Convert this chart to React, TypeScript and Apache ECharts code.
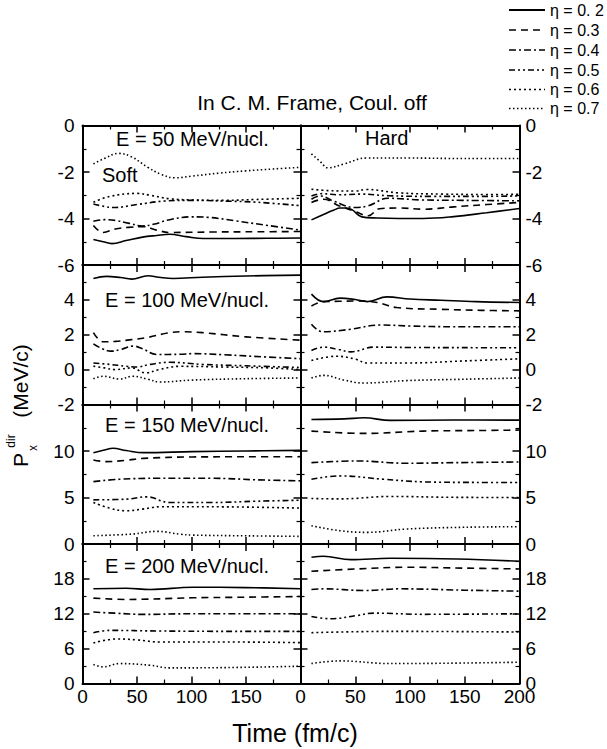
import React, { useEffect, useRef } from "react";
import * as echarts from "echarts";

type Pt = [number, number];

const FONT = "'Liberation Sans', Arial, Helvetica, sans-serif";

const ETA_LABELS = ["η = 0. 2", "η = 0.3", "η = 0.4", "η = 0.5", "η = 0.6", "η = 0.7"];
const ENERGY_LABELS = ["E = 50 MeV/nucl.", "E = 100 MeV/nucl.", "E = 150 MeV/nucl.", "E = 200 MeV/nucl."];
const TITLE = "In C. M. Frame, Coul. off";
const X_TITLE = "Time (fm/c)";

// y-axis range per row (E = 50, 100, 150, 200)
const Y_MIN = [-6, -2, 0, 0];
const Y_MAX = [0, 6, 15, 24];
const Y_STEP = [2, 2, 5, 6];
const X_MIN = 0;
const X_MAX = 200;
const X_STEP = 50;

// each panel: six curves, eta = 0.2 ... 0.7
const SOFT_50: Pt[][] = [
  [[10, -4.9], [19, -5.0], [27, -5.08], [40, -4.95], [55, -4.8], [68, -4.73], [80, -4.68], [95, -4.78], [111, -4.86], [140, -4.86], [170, -4.85], [200, -4.84]],
  [[10, -4.3], [19, -4.6], [30, -4.45], [42, -4.38], [56, -4.35], [68, -4.5], [80, -4.6], [120, -4.58], [160, -4.57], [200, -4.56]],
  [[10, -4.12], [20, -4.05], [30, -4.08], [42, -4.2], [55, -4.32], [65, -4.25], [80, -4.05], [100, -3.93], [115, -3.95], [140, -4.1], [170, -4.3], [200, -4.5]],
  [[10, -3.38], [20, -3.48], [28, -3.53], [50, -3.4], [75, -3.25], [100, -3.22], [130, -3.25], [160, -3.3], [200, -3.45]],
  [[10, -3.3], [25, -3.05], [50, -2.92], [62, -3.0], [80, -3.15], [100, -3.2], [130, -3.22], [160, -3.18], [200, -3.13]],
  [[10, -1.65], [20, -1.42], [33, -1.2], [45, -1.35], [60, -1.8], [72, -2.1], [85, -2.25], [100, -2.18], [125, -2.05], [150, -1.95], [175, -1.87], [200, -1.8]],
];

const HARD_50: Pt[][] = [
  [[10, -4.06], [20, -3.85], [30, -3.65], [36, -3.55], [42, -3.55], [47, -3.62], [56, -3.93], [70, -3.98], [90, -4.0], [112, -4.0], [140, -3.92], [170, -3.75], [200, -3.57]],
  [[10, -3.31], [21, -3.17], [35, -3.45], [50, -3.7], [62, -3.88], [72, -3.58], [90, -3.55], [112, -3.6], [140, -3.5], [170, -3.4], [200, -3.31]],
  [[10, -3.17], [18, -3.03], [30, -3.25], [50, -3.53], [62, -3.45], [80, -3.13], [110, -3.2], [150, -3.22], [200, -3.24]],
  [[10, -3.03], [20, -2.93], [35, -2.98], [55, -2.95], [80, -3.02], [120, -3.05], [160, -3.05], [200, -3.03]],
  [[10, -2.74], [25, -2.8], [50, -2.82], [60, -2.75], [90, -2.9], [130, -2.95], [170, -2.97], [200, -2.96]],
  [[10, -1.22], [18, -1.55], [25, -1.82], [40, -1.65], [60, -1.4], [100, -1.4], [150, -1.42], [200, -1.42]],
];

const SOFT_100: Pt[][] = [
  [[10, 5.22], [22, 5.35], [35, 5.28], [45, 5.19], [60, 5.38], [70, 5.3], [83, 5.23], [110, 5.3], [150, 5.37], [200, 5.42]],
  [[10, 2.12], [19, 1.6], [30, 1.62], [45, 1.72], [60, 1.85], [78, 2.1], [90, 2.17], [110, 2.12], [150, 1.88], [200, 1.69]],
  [[10, 1.48], [18, 1.2], [26, 1.06], [35, 1.15], [47, 1.35], [55, 1.2], [68, 0.87], [90, 0.88], [101, 0.92], [130, 0.85], [170, 0.72], [200, 0.63]],
  [[10, 0.38], [25, 0.3], [40, 0.19], [50, 0.15], [62, 0.3], [80, 0.42], [110, 0.3], [150, 0.22], [200, 0.12]],
  [[10, 0.2], [20, 0.1], [30, 0.0], [45, 0.1], [58, -0.19], [70, 0.0], [89, 0.19], [130, 0.15], [170, 0.1], [200, 0.0]],
  [[10, -0.52], [19, -0.38], [34, -0.54], [46, -0.38], [60, -0.55], [71, -0.71], [100, -0.6], [150, -0.52], [200, -0.48]],
];

const HARD_100: Pt[][] = [
  [[10, 4.33], [21, 3.9], [36, 4.1], [50, 4.02], [61, 3.9], [79, 4.17], [100, 4.05], [128, 3.98], [160, 3.9], [200, 3.85]],
  [[10, 3.65], [21, 3.9], [36, 3.92], [52, 3.94], [70, 3.85], [88, 3.56], [128, 3.46], [165, 3.4], [200, 3.37]],
  [[10, 2.6], [20, 2.17], [45, 2.31], [73, 2.56], [100, 2.5], [140, 2.46], [200, 2.46]],
  [[10, 1.1], [21, 1.29], [35, 1.15], [46, 1.02], [67, 1.29], [100, 1.27], [150, 1.26], [200, 1.25]],
  [[10, 0.52], [33, 0.77], [50, 0.6], [61, 0.38], [97, 0.38], [150, 0.5], [200, 0.62]],
  [[10, -0.48], [21, -0.33], [40, -0.6], [58, -0.77], [97, -0.63], [150, -0.55], [200, -0.48]],
];

const SOFT_150: Pt[][] = [
  [[10, 9.82], [20, 10.1], [28, 10.29], [40, 10.05], [56, 9.82], [101, 9.93], [150, 10.0], [200, 10.07]],
  [[10, 9.04], [22, 8.86], [40, 9.0], [56, 9.21], [101, 9.36], [150, 9.38], [200, 9.39]],
  [[10, 6.71], [34, 6.96], [71, 7.07], [117, 7.07], [160, 6.9], [200, 6.79]],
  [[10, 4.75], [40, 4.82], [59, 5.07], [80, 4.46], [117, 4.46], [160, 4.6], [200, 4.71]],
  [[10, 4.46], [25, 3.85], [40, 3.57], [55, 3.75], [71, 4.0], [117, 4.0], [200, 3.86]],
  [[10, 0.89], [46, 1.07], [68, 1.36], [90, 1.05], [101, 0.96], [150, 0.88], [200, 0.82]],
];

const HARD_150: Pt[][] = [
  [[10, 13.39], [40, 13.45], [58, 13.57], [82, 13.29], [140, 13.33], [200, 13.32]],
  [[10, 12.14], [58, 11.89], [112, 12.14], [160, 12.2], [200, 12.25]],
  [[10, 8.75], [52, 8.93], [97, 8.68], [143, 8.75], [200, 8.82]],
  [[10, 6.96], [36, 7.32], [76, 6.96], [112, 6.68], [160, 6.62], [200, 6.61]],
  [[10, 4.89], [36, 4.85], [82, 5.11], [140, 5.02], [200, 5.0]],
  [[10, 1.96], [36, 1.43], [61, 1.25], [97, 1.61], [150, 1.8], [200, 1.86]],
];

const SOFT_200: Pt[][] = [
  [[10, 16.29], [40, 16.4], [62, 16.17], [101, 16.57], [150, 16.5], [200, 16.29]],
  [[10, 14.69], [40, 14.46], [101, 14.74], [150, 14.85], [200, 14.97]],
  [[10, 12.29], [30, 12.1], [56, 11.89], [101, 12.0], [200, 12.0]],
  [[10, 8.74], [25, 9.14], [71, 9.03], [140, 8.97], [200, 8.97]],
  [[10, 6.97], [31, 7.66], [50, 7.5], [71, 7.14], [132, 7.14], [200, 7.03]],
  [[10, 3.26], [19, 2.86], [34, 3.43], [62, 3.14], [80, 2.69], [132, 2.74], [200, 2.97]],
];

const HARD_200: Pt[][] = [
  [[10, 21.71], [21, 21.89], [46, 21.31], [82, 21.54], [143, 21.43], [200, 21.03]],
  [[10, 19.31], [52, 19.71], [97, 20.0], [150, 19.85], [200, 19.71]],
  [[10, 16.17], [21, 16.29], [58, 16.0], [91, 16.29], [150, 16.05], [200, 15.89]],
  [[10, 11.54], [27, 11.14], [52, 11.71], [67, 12.11], [112, 11.9], [200, 12.0]],
  [[10, 8.74], [82, 8.97], [200, 8.86]],
  [[10, 3.43], [36, 3.89], [82, 3.43], [200, 3.66]],
];

const PANELS: Pt[][][][] = [
  [SOFT_50, HARD_50],
  [SOFT_100, HARD_100],
  [SOFT_150, HARD_150],
  [SOFT_200, HARD_200],
];

const DASHES: any[] = ["solid", [7, 5], [7, 3, 2, 3], [6, 3, 2, 3, 2, 3], [2, 3], [1.5, 2.5]];

// layout
const COL_LEFT = [82.5, 300.5];
const COL_WIDTH = [218, 219];
const ROW_TOP = [125.5, 265, 404.5, 544];
const ROW_HEIGHT = 139.5;

function buildOption() {
  const grid: any[] = [];
  const xAxis: any[] = [];
  const yAxis: any[] = [];
  const series: any[] = [];
  const axisLine = { show: true, onZero: false, lineStyle: { color: "#000", width: 2 } };
  const axisTick = { show: true, inside: true, length: 7, lineStyle: { color: "#000", width: 1.5 } };
  const minorTick = { show: true, splitNumber: 2, length: 4, lineStyle: { color: "#000", width: 1.2 } };
  const labelBase = { color: "#000", fontSize: 19, fontFamily: FONT };

  let i = 0;
  for (let r = 0; r < 4; r++) {
    for (let c = 0; c < 2; c++) {
      grid.push({ left: COL_LEFT[c], top: ROW_TOP[r], width: COL_WIDTH[c], height: ROW_HEIGHT, containLabel: false });
      const xCommon = {
        gridIndex: i, type: "value", min: X_MIN, max: X_MAX, interval: X_STEP,
        axisLine, axisTick, minorTick, splitLine: { show: false },
      };
      xAxis.push({
        ...xCommon, position: "bottom",
        axisLabel: {
          ...labelBase, show: r === 3, margin: 3,
          formatter: (v: number) => (c === 0 && v === X_MAX ? "" : String(v)),
        },
      });
      xAxis.push({ ...xCommon, position: "top", axisLabel: { show: false } });
      const yMax = Y_MAX[r];
      const yCommon = {
        gridIndex: i, type: "value", min: Y_MIN[r], max: yMax, interval: Y_STEP[r],
        axisLine, axisTick, minorTick, splitLine: { show: false },
      };
      const fmt = (v: number) => (r > 0 && v === yMax ? "" : String(v));
      yAxis.push({ ...yCommon, position: "left", axisLabel: { ...labelBase, show: c === 0, margin: 8, formatter: fmt } });
      yAxis.push({ ...yCommon, position: "right", axisLabel: { ...labelBase, show: c === 1, margin: 6, formatter: fmt } });

      PANELS[r][c].forEach((curve, k) => {
        series.push({
          type: "line",
          name: ETA_LABELS[k],
          xAxisIndex: 2 * i,
          yAxisIndex: 2 * i,
          data: curve,
          smooth: 0.4,
          symbol: "none",
          silent: true,
          lineStyle: { color: "#000", width: 1.6, type: DASHES[k] },
        });
      });
      i++;
    }
  }

  const textStyle = (text: string, size: number, align = "left") => ({
    text, fontSize: size, fontFamily: FONT, fill: "#000", align, verticalAlign: "middle",
  });

  const graphic: any[] = [];
  graphic.push({ type: "text", x: 312, y: 102, style: textStyle(TITLE, 21, "center") });
  graphic.push({ type: "text", x: 295, y: 733, style: textStyle(X_TITLE, 25, "center") });
  const energyPos = [[116, 139], [105, 300], [105, 425], [105, 566]];
  ENERGY_LABELS.forEach((t, k) => {
    graphic.push({ type: "text", x: energyPos[k][0], y: energyPos[k][1], style: textStyle(t, 20) });
  });
  graphic.push({ type: "text", x: 102, y: 175, style: textStyle("Soft", 20) });
  graphic.push({ type: "text", x: 365, y: 138, style: textStyle("Hard", 20) });

  // legend
  const legendY = [10, 30, 50, 70, 89.5, 108.5];
  ETA_LABELS.forEach((t, k) => {
    const dash = DASHES[k] === "solid" ? null : DASHES[k];
    graphic.push({
      type: "line",
      shape: { x1: 509, y1: legendY[k], x2: 545, y2: legendY[k] },
      style: { stroke: "#000", lineWidth: k === 0 ? 2 : 1.5, lineDash: dash },
    });
    graphic.push({ type: "text", x: 550, y: legendY[k], style: textStyle(t, 16) });
  });

  // rotated y-axis title: P_x^dir (MeV/c)
  graphic.push({
    type: "group",
    x: 20,
    y: 420,
    rotation: Math.PI / 2,
    children: [
      { type: "text", x: -40, y: 0, style: textStyle("P", 21, "center") },
      { type: "text", x: -21, y: -9, style: textStyle("dir", 12, "center") },
      { type: "text", x: -28, y: 13, style: textStyle("x", 12, "center") },
      { type: "text", x: 39, y: 0, style: textStyle("(MeV/c)", 21, "center") },
    ],
  });

  return {
    animation: false,
    backgroundColor: "#fff",
    grid,
    xAxis,
    yAxis,
    series,
    graphic,
  };
}

export default function App() {
  const ref = useRef<HTMLDivElement>(null);
  useEffect(() => {
    if (!ref.current) return;
    const chart = echarts.init(ref.current, undefined, { renderer: "svg" });
    chart.setOption(buildOption() as any);
    return () => chart.dispose();
  }, []);
  return (
    <div
      ref={ref}
      style={{ position: "absolute", left: 0, top: 0, width: 607, height: 749, background: "#fff" }}
    />
  );
}
